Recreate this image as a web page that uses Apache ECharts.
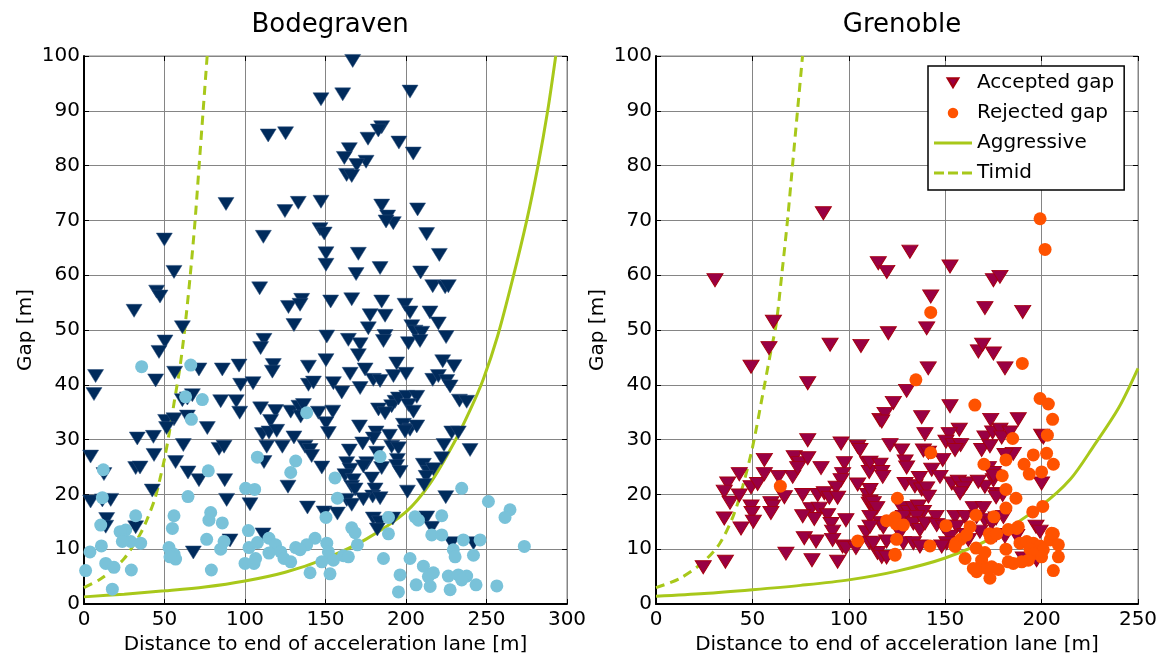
<!DOCTYPE html>
<html>
<head>
    <meta charset="utf-8">
    <title>Gap acceptance</title>
    <script src="https://cdn.jsdelivr.net/npm/echarts@6/dist/echarts.min.js"></script>
    <style>
        html, body { margin: 0; padding: 0; background: #fff; }
        #chart { width: 1161px; height: 660px; }
    </style>
</head>
<body>
<div id="chart"></div>
<script type="text/javascript">
    // Bodegraven: accepted gaps (triangles) [distance, gap]
    var bodeAccepted = [
        [166.9,99.1],[147.2,92.1],[160.7,93.0],[202.5,93.5],[114.4,85.5],[125.2,85.9],[184.9,87.0],[182.8,86.4],
        [176.4,84.9],[195.6,84.2],[164.8,83.0],[161.7,81.4],[204.5,82.2],[175.2,80.7],[169.4,80.1],[163.1,78.3],
        [166.3,78.1],[88.2,73.0],[124.8,71.7],[133.1,73.2],[147.2,73.4],[184.9,72.7],[207.2,72.0],[188.6,70.7],
        [192.1,69.5],[187.6,69.8],[146.6,68.4],[149.2,67.6],[212.8,67.5],[49.9,66.5],[111.4,67.0],
        [55.9,60.6],[31.1,53.5],[45.1,57.0],[47.2,56.1],[61.1,50.5],[50.3,47.9],[46.6,46.0],[7.2,41.6],[6.2,38.3],
        [44.5,40.8],[56.3,42.2],[71.4,42.8],[85.9,42.8],[96.3,43.5],[109.1,57.6],[111.8,48.2],[109.7,46.7],
        [117.6,43.6],[117,42.4],[97.3,40.0],[105,40.3],[61.1,37.2],[64.2,37.5],[67.3,38.1],[84.9,37.0],[94.6,37.0],
        [96.7,34.9],[109.7,35.7],[119,35.2],[115.9,33.4],[128.4,35.1],[133.5,36.0],[134.6,34.2],[110.8,31.0],
        [114.9,31.3],[119.7,31.6],[130.4,30.4],[50.7,33.4],[55.9,33.7],[64.2,34.2],[51.3,32.1],[76.6,32.1],
        [33.1,30.2],[43.1,30.5],[61.7,29.0],[83.9,28.3],[87,28.7],[113.5,28.7],[123.2,28.7],[4.1,26.9],[43.5,27.2],
        [111.8,25.9],[32.1,24.8],[34.8,24.9],[56.9,25.9],[12.4,23.7],[64.6,24.0],[71.4,22.6],[87.4,22.6],
        [126.7,21.4],[42.4,20.7],[4.1,18.7],[11.4,18.9],[16.6,19.0],[88.6,19.0],[103.1,18.2],[14.1,15.5],
        [13.5,14.1],[32.1,14.0],[111.2,12.7],[90.7,11.6],[67.9,9.4],[127,54.2],[130.4,50.9],
        [150.3,64.0],[170.4,63.9],[220.7,63.7],[150.3,61.9],[169,60.2],[183.9,61.3],[209.1,60.5],[216.6,58.0],
        [224.3,57.8],[226.3,58.0],[135.2,55.5],[134.2,54.6],[153.2,55.2],[166.3,55.6],[184.9,55.2],[199.4,54.6],
        [202.5,53.2],[214.9,53.2],[220.1,51.2],[177.7,52.7],[187,52.6],[176.6,50.3],[203.6,50.7],[205.6,49.7],
        [209.8,49.5],[201.5,47.6],[208.7,48.0],[150.8,48.8],[164.2,48.2],[171.5,47.4],[187,48.9],[186,48.0],
        [224.9,48.7],[170.4,45.4],[150.3,44.5],[194.2,43.9],[174.6,42.8],[165.3,42.0],[179.7,40.9],[183.9,40.7],
        [192.2,41.6],[200,42.0],[222.8,44.3],[229.8,43.4],[216.6,40.9],[220.1,41.6],[225.3,40.7],[227.4,39.7],
        [139.4,43.3],[139.4,40.0],[142.5,40.4],[154.9,40.3],[160.1,38.6],[171.5,39.4],[136.3,36.3],[145.6,34.9],
        [154.5,35.1],[150.3,33.0],[151.8,31.2],[193.2,36.9],[191.1,36.1],[195.3,37.5],[200.5,37.8],[206.7,37.8],
        [201.5,36.3],[204.6,35.1],[182.9,35.5],[187,34.8],[233.2,37.1],[237.7,36.9],[171.1,32.4],[198.4,32.7],
        [202.5,31.8],[206.7,32.4],[199.4,31.5],[181.4,31.3],[179.7,30.2],[189.7,30.7],[228.4,31.3],[232.5,31.3],
        [137.3,28.7],[140.4,28.1],[141.4,27.0],[147.7,24.9],[164.8,28.0],[173.1,29.3],[181.8,27.6],[191.1,28.7],
        [195.3,28.4],[194.7,26.3],[194.2,25.2],[196.3,24.1],[223.6,29.0],[239.8,28.1],[222.2,26.6],[163.2,25.7],
        [165.3,24.5],[162.1,23.5],[167.3,22.6],[166.3,21.4],[168.4,20.9],[175.6,25.7],[173.5,25.1],[184.9,24.8],
        [178.7,22.9],[180.8,20.9],[179.3,19.6],[183.9,19.3],[210.8,25.4],[213.9,24.1],[217,24.6],[212.5,23.2],
        [211.2,21.7],[200.9,20.5],[224.7,19.5],[163.2,19.0],[166.3,18.1],[173.5,19.1],[138.8,17.6],[149.1,16.7],
        [157.4,16.5],[179.7,15.6],[183.5,14.9],[182.2,13.6],[191.8,15.6],[212.9,15.8],[216,13.9],[228.4,11.1],
        [241.9,11.1]
    ];

    // Bodegraven: rejected gaps (circles)
    var bodeRejected = [
        [35.8,43.3],[66.3,43.6],[63.1,37.8],[73.5,37.3],[66.7,33.7],[107.7,26.8],[131.5,26.1],[128.4,24.0],
        [12,24.5],[77.2,24.3],[100.4,21.1],[106,20.9],[64.6,19.6],[11.4,19.4],[32.1,16.1],[55.9,16.1],[78.7,16.7],
        [77.6,15.3],[85.9,14.8],[54.9,13.8],[10.4,14.4],[25.9,13.5],[22.4,13.2],[24.8,11.7],[29,11.4],[35.2,11.1],
        [23.8,11.4],[10.8,10.6],[3.7,9.5],[52.8,10.3],[55.9,9.1],[56.9,8.2],[53.4,8.6],[76.2,11.8],[84.9,10.0],
        [87,11.4],[102.1,13.4],[102.5,10.3],[100,7.4],[105.6,7.4],[106.6,8.3],[107.7,11.2],[114.9,12.0],[119,10.8],
        [114.9,9.3],[122.2,9.5],[124.2,8.3],[128.4,7.7],[131.5,10.3],[13.5,7.4],[18.6,6.7],[29.4,6.2],[1,6.1],
        [79.1,6.2],[17.6,2.7],
        [138.3,34.9],[183.9,26.9],[155.9,23.0],[157.4,19.3],[234.6,21.1],[251.2,18.7],[150.3,15.8],[166.3,13.9],
        [168.4,13.0],[169.8,10.8],[189.1,15.8],[189.1,12.8],[205.6,15.9],[207.7,15.3],[222.2,16.1],[216,12.6],
        [222.2,12.6],[229.4,9.9],[230.5,8.6],[235.6,11.7],[241.9,8.9],[246,11.7],[143.5,12.0],[138.3,10.8],
        [134.2,9.9],[150.8,11.1],[151.8,9.5],[154.9,8.0],[161.1,8.8],[164.2,8.6],[147.7,7.7],[140.4,5.7],
        [152.8,5.5],[186,8.3],[196.3,5.3],[195.3,2.2],[202.5,8.3],[206.3,3.5],[210.8,6.9],[213.9,5.0],[217,5.7],
        [215,3.2],[226.3,5.1],[227.4,2.6],[232.5,5.3],[237.7,5.1],[234.6,4.4],[243.5,3.5],[256.4,3.3],
        [264.6,17.2],[261.5,15.8],[273.5,10.5]
    ];

    // Grenoble: accepted gaps (triangles)
    var grenAccepted = [
        [30.6,59.1],[60.9,51.5],[86.8,71.3],[58.6,46.7],[90.3,47.3],[106.3,47.1],[49.3,43.3],[116.2,33.6],
        [78.7,40.3],[78.7,29.9],[56.2,26.3],[43.2,23.7],[37.2,22.0],[35.4,20.5],[38.4,18.5],[43.2,19.8],[49.3,21.3],
        [52.7,21.9],[56.2,23.7],[63.6,23.2],[70.9,23.2],[71.7,26.8],[74.3,25.7],[73.5,24.8],[78.7,26.6],[85.6,24.8],
        [96,29.3],[104.6,28.7],[105.8,28.1],[97.7,25.7],[109.8,25.7],[110.6,24.1],[96.8,23.7],[96,22.6],[93.4,21.2],
        [104.6,21.8],[109.8,19.9],[110.6,18.3],[113.2,17.1],[49.3,17.8],[49.8,16.6],[50.5,15.0],[59.6,18.4],
        [60.5,17.8],[59.6,16.6],[66.6,19.5],[76.1,19.9],[83.9,19.9],[87.3,20.2],[89.9,19.4],[94.2,19.4],[80.4,17.3],
        [84.7,17.4],[89,16.2],[82.1,15.5],[76.1,16.0],[90.8,14.6],[91.6,13.2],[98.5,15.3],[76.9,12.0],[83,11.4],
        [91.6,11.7],[96.8,10.5],[98.5,10.2],[103.7,10.2],[108.9,13.1],[110.6,11.2],[35.4,15.6],[44.1,13.8],
        [67.4,9.2],[80.9,8.0],[94.2,7.7],[36,7.7],[24.5,6.7],[114.9,9.3],
        [115.3,62.2],[119.7,60.6],[131.7,64.3],[152.5,61.6],[175,59.1],[178.4,59.7],[142.5,56.1],[170.6,54.0],
        [190.2,53.3],[120.5,49.4],[140.4,50.3],[167.2,46.1],[169.4,47.3],[175,45.7],[181,43.0],[141.2,43.0],
        [130,38.9],[123.1,36.7],[118.8,34.7],[117.1,33.3],[152.5,36.1],[137.8,34.1],[139.5,31.0],[121.4,29.0],
        [173.6,33.6],[187.9,33.7],[157.3,31.8],[152.1,31.0],[150.4,29.6],[154.2,29.0],[158,29.0],[155.1,28.1],
        [148.7,26.3],[170.6,30.4],[174.6,31.3],[178.4,31.8],[179.3,30.4],[183.6,31.3],[168.9,28.1],[173.2,28.8],
        [185.3,27.4],[181,27.2],[200,30.7],[200.9,30.4],[138.7,28.0],[141.3,27.6],[127.4,28.0],[129.2,26.0],
        [130,24.9],[111,25.8],[116.2,25.4],[117.1,24.1],[117.6,23.2],[143,24.5],[147.3,23.2],[172.4,24.8],
        [175,23.9],[175,22.6],[170.6,21.4],[200,22.0],[129.2,21.9],[134.3,21.5],[136.6,23.0],[137.8,20.9],
        [140.4,21.1],[141.3,19.6],[153.4,22.0],[156.8,22.3],[161.1,22.0],[159.4,21.1],[157.7,20.2],[167.2,22.3],
        [176.4,20.1],[175,23.4],[179.8,19.9],[176.4,19.5],[111,20.8],[111,18.7],[112.7,18.4],[114.5,17.5],
        [116.2,14.8],[117.9,14.0],[111,15.9],[111,14.1],[127.4,17.5],[130.9,16.8],[133.5,17.5],[136.1,17.8],
        [138.7,16.8],[128.3,15.9],[135.2,15.9],[133.5,14.7],[136.9,13.5],[139.5,14.7],[145.2,15.9],[145.6,14.4],
        [149,14.1],[126.6,12.9],[128.3,11.1],[119.6,11.4],[112.7,11.1],[117.1,8.6],[119.6,8.5],[155.1,15.9],
        [160.3,15.9],[156,14.1],[152.5,12.3],[160.3,12.6],[162,11.7],[164.6,17.5],[169.8,17.5],[166.3,15.9],
        [170.6,15.3],[174.1,14.7],[176.4,15.6],[180.2,15.9],[168,13.2],[176.4,12.6],[181,12.3],[187.1,12.4],
        [150.8,11.1],[148.2,10.5],[197.1,14.1],[199.2,13.2],[133.5,11.1],[136.9,10.5],[190.5,8.3],[197.4,8.0]
    ];

    // Grenoble: rejected gaps (circles)
    var grenRejected = [
        [199.2,70.3],[201.8,64.7],[142.5,53.2],[190,43.9],[134.8,40.9],[165.4,36.3],[199.2,37.5],[203.5,36.5],
        [205.7,33.7],[203,30.8],[185,30.2],[195.7,27.2],[202.6,27.5],[206.1,25.5],[200,24.1],[190.9,25.5],
        [193.6,23.7],[170.1,25.5],[181.5,26.3],[142.5,27.6],[64.5,21.5],[104.6,11.5],
        [179.6,23.4],[181.5,20.9],[186.7,19.3],[181.5,17.5],[187.1,13.8],[195.4,16.8],[200.6,17.8],[175.3,15.9],
        [166,16.2],[162.9,14.1],[150.4,14.3],[155.6,11.1],[158,11.8],[161.1,12.6],[155.1,10.5],[125.2,19.3],
        [124,15.8],[124.5,14.6],[128.3,14.4],[124.8,11.8],[124,9.1],[142.1,10.6],[172.9,12.8],[173.6,12.0],
        [176.7,12.8],[181.5,10.0],[182.7,13.6],[187.9,14.1],[188.8,11.1],[192.3,11.4],[195.7,11.1],[199.2,10.6],
        [200.9,9.9],[204.4,11.7],[206.1,12.8],[205.2,12.9],[208.7,10.8],[208.7,8.6],[206.1,6.1],[194,10.0],
        [195.7,9.2],[193.1,8.0],[189.7,7.7],[185.3,7.4],[200,8.6],[160.3,8.3],[166,10.2],[168.9,8.0],[170.6,9.4],
        [168.1,6.7],[171.5,6.5],[174.1,6.8],[177.6,6.3],[182.7,7.7],[173.2,4.7],[166.3,5.9],[164.6,6.5],
        [119.6,15.2],[124,8.9]
    ];

    // decision curves
    var bodeAggressive = [[0,1.3],[25,1.8],[50,2.4],[75,3.1],[100,4.2],[125,5.8],[150,8.3],[175,11.8],[200,16.8],
        [215,22],[230,29.5],[240,35.5],[248,41],[257,49],[266,59],[275,70],[282,80],[288,90],[293,100]];
    var bodeTimid = [[0,3],[10,4.5],[18,6.3],[25,8.3],[30,10.4],[35,12.8],[39,15.3],[44,19.2],[47,22.6],[50,26.5],
        [53,31.3],[56,36.8],[59.5,43],[62.5,50],[66,60],[69,70],[71.5,80],[74,90],[76.5,100]];
    var grenAggressive = [[0,1.4],[25,1.9],[50,2.6],[75,3.4],[100,4.4],[125,6],[150,8.4],[175,12.2],[200,18],
        [215,22.8],[227,28.8],[240,35.8],[250,43]];
    var grenTimid = [[0,3],[12,4.6],[24,7.5],[33,11],[40,16],[45,21.5],[50,28.5],[55.5,38.5],[59.5,46],[62.3,51],
        [65.2,60],[68.2,70],[70.8,80],[73.4,90],[76,100]];

    var panelTitles = ['Bodegraven', 'Grenoble'];
    var xMax = [300, 250];

    var FONT = 'DejaVu Sans';
    var GREEN = '#a8c81a';
    var triDown = 'path://M0,0L20,0L10,17Z';
    // legend icons, padded with empty points so they draw at marker size
    var legTri = 'path://M0,-3L0,-3Z M4,0L18,0L11,11.5Z M22,15L22,15Z';
    var legDot = 'path://M0,-1L0,-1Z M4.5,7A6,6 0 1,0 16.5,7A6,6 0 1,0 4.5,7Z M21,15L21,15Z';
    var legSolid = 'path://M0,0H38V3H0Z';
    var legDash = 'path://M0,0H10V3H0Z M14,0H24V3H14Z M28,0H38V3H28Z';

    var myChart = echarts.init(document.getElementById('chart'), null, {renderer: 'canvas'});

    function xAx(i, top) {
        return {
            type: 'value', gridIndex: i, min: 0, max: xMax[i], interval: 50,
            position: top ? 'top' : 'bottom',
            name: top ? '' : 'Distance to end of acceleration lane [m]',
            nameLocation: 'middle', nameGap: 31,
            nameTextStyle: {fontFamily: FONT, fontSize: 20, color: '#000'},
            axisLine: {show: !top, onZero: false, lineStyle: {color: '#000', width: 2}},
            axisTick: {show: true, inside: true, length: 5, lineStyle: {color: '#000'}},
            axisLabel: {show: !top, fontFamily: FONT, fontSize: 20, color: '#000', margin: 6},
            splitLine: {show: !top, lineStyle: {color: '#858585', width: 1}}
        };
    }

    function yAx(i, right) {
        return {
            type: 'value', gridIndex: i, min: 0, max: 100, interval: 10,
            position: right ? 'right' : 'left',
            name: right ? '' : 'Gap [m]',
            nameLocation: 'middle', nameGap: 48,
            nameTextStyle: {fontFamily: FONT, fontSize: 20, color: '#000'},
            axisLine: {show: !right, onZero: false, lineStyle: {color: '#000', width: 2}},
            axisTick: {show: true, inside: true, length: 5, lineStyle: {color: '#000'}},
            axisLabel: {show: !right, fontFamily: FONT, fontSize: 20, color: '#000', margin: 4},
            splitLine: {show: !right, lineStyle: {color: '#858585', width: 1}}
        };
    }

    function lineSeries(name, data, xi, dashed) {
        return {
            name: name, type: 'line', xAxisIndex: xi, yAxisIndex: xi,
            data: data, symbol: 'none', smooth: 0.3,
            lineStyle: {color: GREEN, width: 3, type: dashed ? [9, 6] : 'solid'},
            itemStyle: {color: GREEN}, z: 3
        };
    }

    myChart.setOption({
        backgroundColor: '#fff',
        animation: false,
        title: [
            {text: panelTitles[0], left: 325, top: 7, textAlign: 'center',
                textStyle: {fontFamily: FONT, fontSize: 26, fontWeight: 'normal', color: '#000'}},
            {text: panelTitles[1], left: 897, top: 7, textAlign: 'center',
                textStyle: {fontFamily: FONT, fontSize: 26, fontWeight: 'normal', color: '#000'}}
        ],
        grid: [
            {left: 84, top: 56, width: 483, height: 548, show: true, borderColor: '#858585', borderWidth: 1},
            {left: 656, top: 56, width: 482, height: 548, show: true, borderColor: '#858585', borderWidth: 1}
        ],
        xAxis: [xAx(0, false), xAx(1, false), xAx(0, true), xAx(1, true)],
        yAxis: [yAx(0, false), yAx(1, false), yAx(0, true), yAx(1, true)],
        legend: {
            orient: 'vertical', left: 928, top: 66,
            padding: [7, 10, 7, 6], itemGap: 10, itemWidth: 38, itemHeight: 14,
            backgroundColor: '#fff', borderColor: '#000', borderWidth: 1.5,
            textStyle: {fontFamily: FONT, fontSize: 20, color: '#000'},
            data: [
                {name: 'Accepted gap', icon: legTri},
                {name: 'Rejected gap', icon: legDot},
                {name: 'Aggressive', icon: legSolid},
                {name: 'Timid', icon: legDash}
            ]
        },
        series: [
            {
                name: 'Bodegraven accepted', type: 'scatter', xAxisIndex: 0, yAxisIndex: 0,
                data: bodeAccepted, symbol: triDown, symbolSize: [16, 13],
                itemStyle: {color: '#002b5c', borderColor: '#2a4f7a', borderWidth: 0.5, opacity: 1}, z: 4
            },
            {
                name: 'Bodegraven rejected', type: 'scatter', xAxisIndex: 0, yAxisIndex: 0,
                data: bodeRejected, symbol: 'circle', symbolSize: 13,
                itemStyle: {color: '#79c2d9', opacity: 1}, z: 4
            },
            lineSeries('Bodegraven aggressive', bodeAggressive, 0, false),
            lineSeries('Bodegraven timid', bodeTimid, 0, true),
            {
                name: 'Accepted gap', type: 'scatter', xAxisIndex: 1, yAxisIndex: 1,
                data: grenAccepted, symbol: triDown, symbolSize: [16, 13],
                itemStyle: {color: '#990044', borderColor: '#a50010', borderWidth: 1, opacity: 1}, z: 4
            },
            {
                name: 'Rejected gap', type: 'scatter', xAxisIndex: 1, yAxisIndex: 1,
                data: grenRejected, symbol: 'circle', symbolSize: 13,
                itemStyle: {color: '#ff5200', opacity: 1}, z: 5
            },
            lineSeries('Aggressive', grenAggressive, 1, false),
            lineSeries('Timid', grenTimid, 1, true)
        ]
    });
</script>
</body>
</html>
